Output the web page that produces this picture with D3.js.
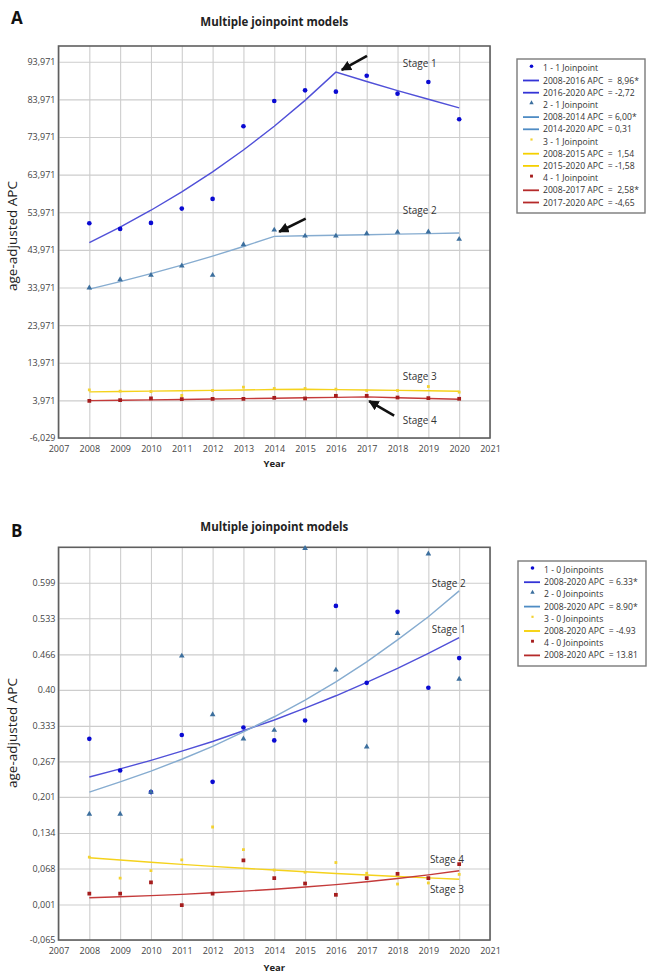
<!DOCTYPE html>
<html><head><meta charset="utf-8">
<script src="https://cdn.jsdelivr.net/npm/d3@7"></script>
<style>
body{margin:0;background:#fff}
text{font-family:"Open Sans",sans-serif}
</style>
</head><body>
<svg id="c" width="652" height="979"></svg>
<script>
// ---------- shared ----------
const years = [2008,2009,2010,2011,2012,2013,2014,2015,2016,2017,2018,2019,2020];
const xTickValues = [2007,2008,2009,2010,2011,2012,2013,2014,2015,2016,2017,2018,2019,2020,2021];
const seriesColors = ["#0a0ad2","#3c6f9e","#f3d230","#a51d1d"];
const fitColors = ["#5050d8","#86acd0","#f5d21c","#c43a3a"];
const legendLineColors = ["#3434d6","#4f8cc4","#f5d000","#b52a2a"];

// ---------- panel A ----------
const aYTickValues = [-6.029,3.971,13.971,23.971,33.971,43.971,53.971,63.971,73.971,83.971,93.971];
const aYTickLabels = ["-6,029","3,971","13,971","23,971","33,971","43,971","53,971","63,971","73,971","83,971","93,971"];
const aObs1 = [51.05,49.53,51.13,54.93,57.50,76.81,83.53,86.37,86.00,90.25,85.47,88.58,78.67];
const aFit1 = [45.9,50.0,54.5,59.4,64.7,70.5,76.8,83.7,91.2,88.7,86.3,84.0,81.7];
const aObs2 = [33.87,36.07,37.23,39.71,37.23,45.37,49.27,47.67,47.67,48.29,48.66,48.74,46.80];
const aFit2 = [33.52,35.53,37.66,39.92,42.32,44.86,47.55,47.70,47.85,48.00,48.14,48.29,48.44];
const aObs3 = [6.77,6.43,6.33,5.27,6.60,7.49,7.13,7.13,6.96,6.60,6.60,7.65,6.16];
const aFit3 = [6.24,6.34,6.43,6.53,6.63,6.73,6.84,6.94,6.83,6.72,6.62,6.51,6.41];
const aObs4 = [3.85,4.04,4.48,4.30,4.39,4.39,4.65,4.48,5.18,5.18,4.73,4.57,4.39];
const aFit4 = [3.90,4.00,4.10,4.21,4.32,4.43,4.54,4.66,4.78,4.90,4.67,4.46,4.25];
const aLegendLabels = ["1 - 1 Joinpoint","2008-2016 APC  =  8,96*","2016-2020 APC  = -2,72",
  "2 - 1 Joinpoint","2008-2014 APC  = 6,00*","2014-2020 APC  = 0,31",
  "3 - 1 Joinpoint","2008-2015 APC  =  1,54","2015-2020 APC  = -1,58",
  "4 - 1 Joinpoint","2008-2017 APC  =  2,58*","2017-2020 APC  = -4,65"];
const aLegendSeries = [0,0,0,1,1,1,2,2,2,3,3,3];
const aLegendKinds = ["point","line","line","point","line","line","point","line","line","point","line","line"];
const aStageLabels = ["Stage 1","Stage 2","Stage 3","Stage 4"];
const aStageYears = [2018.17,2018.17,2018.17,2018.17];
const aStageValues = [93.36,54.56,10.26,-1.43];
const aArrowTail = [[2017.01,95.49],[2015.02,52.25],[2017.89,-0.10]];
const aArrowTip = [[2016.19,91.77],[2014.16,48.79],[2017.08,3.80]];

// ---------- panel B ----------
const bYTickValues = [-0.065,0.001,0.068,0.134,0.201,0.267,0.333,0.400,0.466,0.533,0.599];
const bYTickLabels = ["-0,065","0,001","0,068","0,134","0,201","0,267","0.333","0.40","0.466","0.533","0.599"];
const bObs1 = [0.309,0.250,0.210,0.316,0.229,0.330,0.306,0.343,0.556,0.413,0.545,0.404,0.459];
const bFit1 = [0.238,0.253,0.269,0.286,0.304,0.324,0.344,0.366,0.389,0.414,0.440,0.468,0.497];
const bObs2 = [0.169,0.169,0.210,0.463,0.354,0.309,0.325,0.663,0.437,0.294,0.505,0.653,0.420];
const bFit2 = [0.210,0.229,0.249,0.271,0.295,0.322,0.350,0.381,0.415,0.452,0.493,0.536,0.584];
const bObs3 = [0.089,0.050,0.064,0.084,0.145,0.103,0.065,0.061,0.079,0.059,0.039,0.041,0.057];
const bFit3 = [0.088,0.0837,0.0795,0.0756,0.0719,0.0683,0.0650,0.0618,0.0587,0.0558,0.0531,0.0505,0.048];
const bObs4 = [0.021,0.021,0.042,0.000,0.021,0.083,0.050,0.040,0.019,0.050,0.058,0.050,0.076];
const bFit4 = [0.0135,0.0154,0.0175,0.0199,0.0227,0.0258,0.0293,0.0334,0.0380,0.0433,0.0492,0.0560,0.0638];
const bLegendLabels = ["1 - 0 Joinpoints","2008-2020 APC  = 6.33*","2 - 0 Joinpoints","2008-2020 APC  = 8.90*",
  "3 - 0 Joinpoints","2008-2020 APC  = -4.93","4 - 0 Joinpoints","2008-2020 APC  = 13.81"];
const bLegendSeries = [0,0,1,1,2,2,3,3];
const bLegendKinds = ["point","line","point","line","point","line","point","line"];
const bStageLabels = ["Stage 2","Stage 1","Stage 4","Stage 3"];
const bStageYears = [2019.11,2019.11,2019.05,2019.05];
const bStageValues = [0.597,0.513,0.085,0.029];

const titleText = "Multiple joinpoint models";
const yLabelText = "age-adjusted APC";
const xLabelText = "Year";

const svg = d3.select("#c");
const defs = svg.append("defs");
defs.append("marker").attr("id","ah").attr("viewBox","0 0 10 10").attr("refX",9).attr("refY",5)
  .attr("markerWidth",4).attr("markerHeight",4).attr("orient","auto")
  .append("path").attr("d","M0,0 L10,5 L0,10 Z").attr("fill","#111");

const symbolFor = [d3.symbolCircle, d3.symbolTriangle, d3.symbolSquare, d3.symbolSquare];
const symbolSize = [17, 14, 8, 14];

function drawPanel(p){
  const g = svg.append("g");
  const x = d3.scaleLinear().domain([xTickValues[0], xTickValues[xTickValues.length-1]]).range([p.left, p.right]);
  const y = d3.scaleLinear().domain(p.yDomain).range([p.bottom, p.top]);

  // panel letter + title
  g.append("text").attr("x", 11).attr("y", p.letterY).text(p.letter)
    .attr("font-family","Liberation Sans, Arial, sans-serif").attr("font-weight","bold").attr("font-size",17).attr("fill","#111");
  g.append("text").attr("x", (p.left+p.right)/2).attr("y", p.titleY).attr("text-anchor","middle")
    .attr("font-weight","bold").attr("font-size",11.5).attr("fill","#222").text(titleText);

  // grid via axes
  const yAxis = d3.axisLeft(y).tickValues(p.yTicks).tickFormat((d,i)=>p.yLabels[i])
    .tickSizeInner(-(p.right-p.left)).tickSizeOuter(0).tickPadding(3);
  const ya = g.append("g").attr("transform",`translate(${p.left},0)`).call(yAxis);
  ya.select(".domain").remove();
  ya.selectAll("line").attr("stroke","#cdcdcd").attr("stroke-width",1.1);
  ya.selectAll("text").attr("font-family","Liberation Sans, Arial, sans-serif").attr("font-size",9).attr("fill","#444");

  const xAxis = d3.axisBottom(x).tickValues(xTickValues).tickFormat(d3.format("d"))
    .tickSizeInner(-(p.bottom-p.top)).tickSizeOuter(0).tickPadding(8);
  const xa = g.append("g").attr("transform",`translate(0,${p.bottom})`).call(xAxis);
  xa.select(".domain").remove();
  xa.selectAll("line").attr("stroke","#cdcdcd").attr("stroke-width",1.1);
  xa.selectAll("text").attr("font-family","Liberation Sans, Arial, sans-serif").attr("font-size",9).attr("fill","#444");

  // frame
  g.append("rect").attr("x",p.left).attr("y",p.top).attr("width",p.right-p.left).attr("height",p.bottom-p.top)
    .attr("fill","none").attr("stroke","#5f5f5f").attr("stroke-width",1.6);

  // axis titles
  g.append("text").attr("transform",`translate(${p.yLabelX},${p.yLabelY}) rotate(-90)`).attr("text-anchor","middle")
    .attr("font-size",13.5).attr("fill","#222").text(yLabelText);
  g.append("text").attr("x",(p.left+p.right)/2).attr("y",p.xLabelY).attr("text-anchor","middle")
    .attr("font-weight","bold").attr("font-size",9.5).attr("fill","#222").text(xLabelText);

  const clip = "clip"+p.letter;
  defs.append("clipPath").attr("id",clip).append("rect")
    .attr("x",p.left).attr("y",p.top-3).attr("width",p.right-p.left).attr("height",p.bottom-p.top+3);

  const line = d3.line().x((d,i)=>x(years[i])).y(d=>y(d));
  const plot = g.append("g").attr("clip-path",`url(#${clip})`);
  p.fits.forEach((f,k)=>{
    plot.append("path").attr("d",line(f)).attr("fill","none").attr("stroke",fitColors[k]).attr("stroke-width",1.4);
  });
  p.obs.forEach((o,k)=>{
    plot.selectAll(null).data(o).join("path")
      .attr("transform",(d,i)=>`translate(${x(years[i])},${y(d)})`)
      .attr("d",d3.symbol().type(symbolFor[k]).size(symbolSize[k]))
      .attr("fill",seriesColors[k]);
  });

  // stage labels
  g.selectAll(null).data(p.stageLabels).join("text")
    .attr("x",(d,i)=>x(p.stageYears[i])).attr("y",(d,i)=>y(p.stageValues[i])).attr("dy","0.35em")
    .attr("font-size",10).attr("fill","#333").text(d=>d);

  // arrows
  if(p.arrowTail){
    g.selectAll(null).data(p.arrowTail).join("line")
      .attr("x1",d=>x(d[0])).attr("y1",d=>y(d[1]))
      .attr("x2",(d,i)=>x(p.arrowTip[i][0])).attr("y2",(d,i)=>y(p.arrowTip[i][1]))
      .attr("stroke","#111").attr("stroke-width",2.6).attr("marker-end","url(#ah)");
  }

  // legend
  const L = p.legend;
  const lg = g.append("g");
  lg.append("rect").attr("x",L.x).attr("y",L.y).attr("width",L.w).attr("height",L.h)
    .attr("fill","#fff").attr("stroke","#7a7a7a").attr("stroke-width",1.4);
  L.labels.forEach((t,i)=>{
    const cy = L.y + L.first + i*L.step;
    const k = L.series[i];
    if(L.kinds[i]==="line"){
      lg.append("line").attr("x1",L.x+6).attr("x2",L.x+22).attr("y1",cy).attr("y2",cy)
        .attr("stroke",legendLineColors[k]).attr("stroke-width",1.8);
    } else {
      lg.append("path").attr("transform",`translate(${L.x+14.5},${cy-2})`)
        .attr("d",d3.symbol().type(symbolFor[k]).size(symbolSize[k]*0.6)).attr("fill",seriesColors[k]);
    }
    lg.append("text").attr("x",L.x+26).attr("y",cy).attr("dy","0.35em")
      .attr("font-size",8.6).attr("fill","#333").style("white-space","pre").text(t);
  });
}

drawPanel({
  letter:"A", letterY:23.5, titleY:26,
  left:58.5, right:490, top:46, bottom:438, yDomain:[-6.029,98.143],
  yTicks:aYTickValues, yLabels:aYTickLabels,
  yLabelX:17, yLabelY:236, xLabelY:467,
  obs:[aObs1,aObs2,aObs3,aObs4], fits:[aFit1,aFit2,aFit3,aFit4],
  stageLabels:aStageLabels, stageYears:aStageYears, stageValues:aStageValues,
  arrowTail:aArrowTail, arrowTip:aArrowTip,
  legend:{x:517,y:59,w:128,h:154,first:9.3,step:12.2,labels:aLegendLabels,series:aLegendSeries,kinds:aLegendKinds}
});
drawPanel({
  letter:"B", letterY:537, titleY:530.5,
  left:58.5, right:490, top:547.3, bottom:940, yDomain:[-0.065,0.665],
  yTicks:bYTickValues, yLabels:bYTickLabels,
  yLabelX:17, yLabelY:733, xLabelY:971,
  obs:[bObs1,bObs2,bObs3,bObs4], fits:[bFit1,bFit2,bFit3,bFit4],
  stageLabels:bStageLabels, stageYears:bStageYears, stageValues:bStageValues,
  legend:{x:518,y:561,w:128,h:105,first:9,step:12.2,labels:bLegendLabels,series:bLegendSeries,kinds:bLegendKinds}
});
</script>
</body></html>
